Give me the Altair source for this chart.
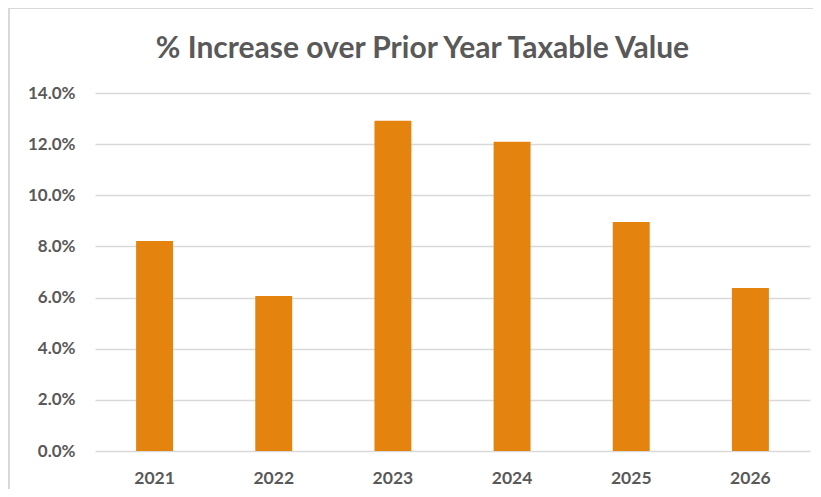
import altair as alt
import pandas as pd

years = ["2021", "2022", "2023", "2024", "2025", "2026"]
values = [0.0821, 0.0606, 0.1291, 0.1209, 0.0896, 0.0637]

df = pd.DataFrame({"year": years, "value": values})

W, H = 715, 358

bars = alt.Chart(df).mark_bar(color="#E5830F").encode(
    x=alt.X("year:N", sort=years, title=None,
            scale=alt.Scale(paddingInner=0.69, paddingOuter=0.345),
            axis=alt.Axis(labelAngle=0, ticks=False, domain=False,
                          labelFont="Lato", labelFontWeight="bold",
                          labelFontSize=17.5, labelColor="#595959",
                          labelPadding=18)),
    y=alt.Y("value:Q", title=None,
            scale=alt.Scale(domain=[0, 0.14], nice=False),
            axis=alt.Axis(format=".1%", values=[0, 0.02, 0.04, 0.06, 0.08, 0.10, 0.12, 0.14],
                          ticks=False, domain=False, grid=True,
                          gridColor="#d9d9d9", gridWidth=1.5,
                          labelFont="Lato", labelFontWeight="bold",
                          labelFontSize=17, labelColor="#595959",
                          labelPadding=20)),
)

frame = alt.Chart(pd.DataFrame({"a": [0]})).mark_rect(
    filled=False, stroke="#d9d9d9", strokeWidth=2, clip=False
).encode(
    x=alt.value(-86), x2=alt.value(740),
    y=alt.value(-85), y2=alt.value(420),
)

chart = alt.layer(frame, bars).properties(
    width=W, height=H,
    autosize=alt.AutoSizeParams(type="none"),
    padding={"left": 87, "top": 85, "right": 3, "bottom": 38},
    title=alt.TitleParams(
        "% Increase over Prior Year Taxable Value",
        font="Lato", fontSize=30, fontWeight="bold", color="#595959",
        anchor="middle", dx=-30, offset=-57,
    ),
).configure_view(stroke=None)

chart.save("out.html", embed_options={"renderer": "svg", "actions": False})
